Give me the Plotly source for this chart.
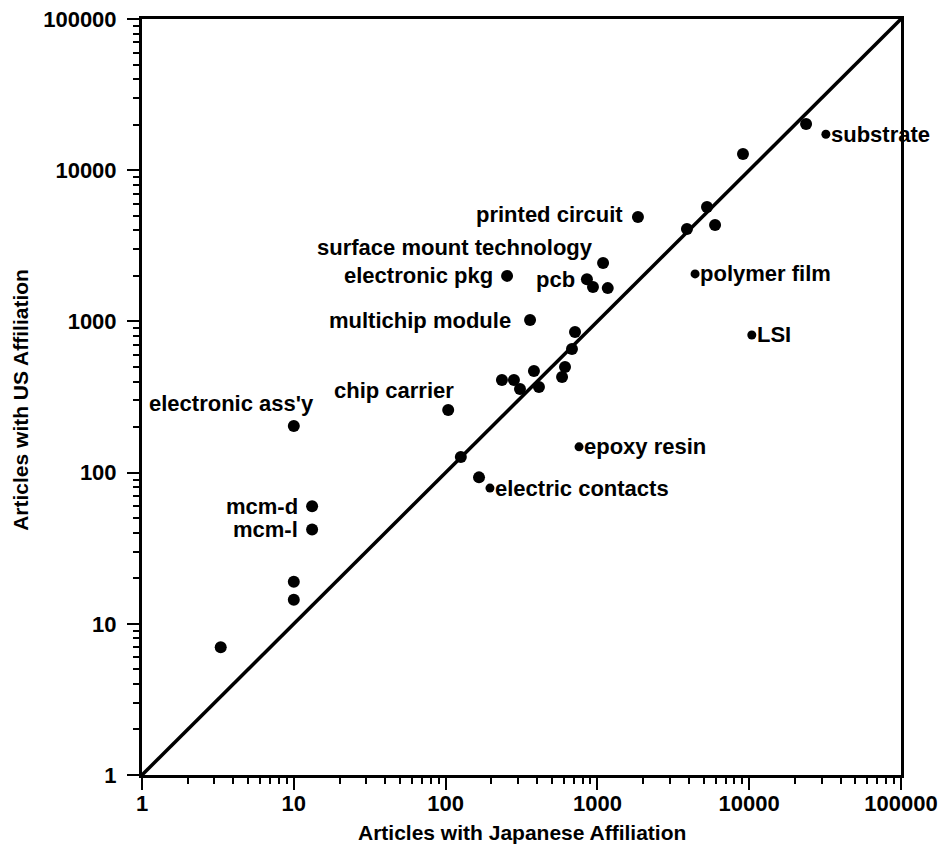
import math
import plotly.graph_objects as go

# ---- data ----
# unlabeled points: Japanese-affiliation count (x), US-affiliation count (y)
plain_jp = [3.3, 10, 10, 126, 166, 235, 282, 309, 412, 382, 585, 612, 680, 712,
            935, 1170, 3890, 5270, 5960, 9100, 23700]
plain_us = [7, 19, 14.4, 127, 93, 410, 410, 357, 368, 470, 429, 499, 657, 851,
            1690, 1660, 4080, 5710, 4340, 12800, 20200]

# labeled points (label placed to the left of the dot)
lab_names = ["electronic ass'y", "mcm-d", "mcm-l", "chip carrier", "electronic pkg",
             "multichip module", "printed circuit", "surface mount technology", "pcb"]
lab_jp = [10, 13.2, 13.2, 104, 254, 360, 1850, 1090, 853]
lab_us = [203, 60, 42, 259, 2000, 1020, 4900, 2430, 1900]

# bulleted labels (small bullet followed by text)
bul_names = ["substrate", "polymer film", "LSI", "epoxy resin", "electric contacts"]
bul_jp = [32000, 4400, 10400, 757, 196]
bul_us = [17300, 2060, 813, 148, 79]

# y = x reference line end points
diag = [1, 100000]

tick_vals = [1, 10, 100, 1000, 10000, 100000]
tick_text = ["1", "10", "100", "1000", "10000", "100000"]

x_title = "Articles with Japanese Affiliation"
y_title = "Articles with US Affiliation"

# ---- styles ----
FONT = "Liberation Sans, Arial, Helvetica, sans-serif"
# (xshift, yshift) in pixels for left-side labels, anchored right
lab_shift = [(22, 23), (-12, 0), (-12, 0), (8, 20), (-12, 0),
             (-17, 0), (-13, 3), (-8, 16), (-10, 0)]

fig = go.Figure()
fig.add_trace(go.Scatter(x=diag, y=diag, mode="lines",
                         line=dict(color="black", width=3.5), hoverinfo="skip"))
fig.add_trace(go.Scatter(x=plain_jp, y=plain_us, mode="markers",
                         marker=dict(color="black", size=12)))
fig.add_trace(go.Scatter(x=lab_jp, y=lab_us, mode="markers",
                         marker=dict(color="black", size=12)))
fig.add_trace(go.Scatter(x=bul_jp, y=bul_us, mode="markers",
                         marker=dict(color="black", size=9)))

lab_font = dict(family=FONT, size=22, color="black", weight="bold")
annots = []
for name, xv, yv, (dx, dy) in zip(lab_names, lab_jp, lab_us, lab_shift):
    annots.append(dict(x=math.log10(xv), y=math.log10(yv), text=name, showarrow=False,
                       xanchor="right", yanchor="middle", xshift=dx, yshift=dy,
                       font=lab_font))
for name, xv, yv in zip(bul_names, bul_jp, bul_us):
    annots.append(dict(x=math.log10(xv), y=math.log10(yv), text=name, showarrow=False,
                       xanchor="left", yanchor="middle", xshift=3, yshift=0,
                       font=lab_font))

title_font = dict(family=FONT, size=21, color="black", weight="bold")
annots.append(dict(xref="paper", yref="paper", x=0.5, y=-0.0754, text=x_title,
                   showarrow=False, xanchor="center", yanchor="middle", font=title_font))
annots.append(dict(xref="paper", yref="paper", x=-0.161, y=0.496, text=y_title,
                   showarrow=False, xanchor="center", yanchor="middle", textangle=-90,
                   font=title_font))

axis_common = dict(
    type="log", range=[0, 5], showgrid=False, zeroline=False, automargin=False,
    showline=True, linecolor="black", linewidth=3, mirror=True,
    ticks="outside", ticklen=12, tickwidth=2, tickcolor="black",
    tickvals=tick_vals, ticktext=tick_text, ticklabeloverflow="allow",
    tickfont=dict(family=FONT, size=22, color="black", weight="bold"),
    minor=dict(ticks="outside", ticklen=6, tickwidth=2, tickcolor="black",
               dtick="D1", showgrid=False),
)

# page body has an 8px default margin, so the figure is shrunk by that amount
fig.update_layout(
    width=941, height=844,
    margin=dict(l=134, r=48, t=11, b=77),
    paper_bgcolor="white", plot_bgcolor="white",
    showlegend=False,
    xaxis=dict(axis_common, ticklabelstandoff=-5),
    yaxis=dict(axis_common, ticklabelstandoff=6),
    annotations=annots,
)

fig.write_html("out.html")
